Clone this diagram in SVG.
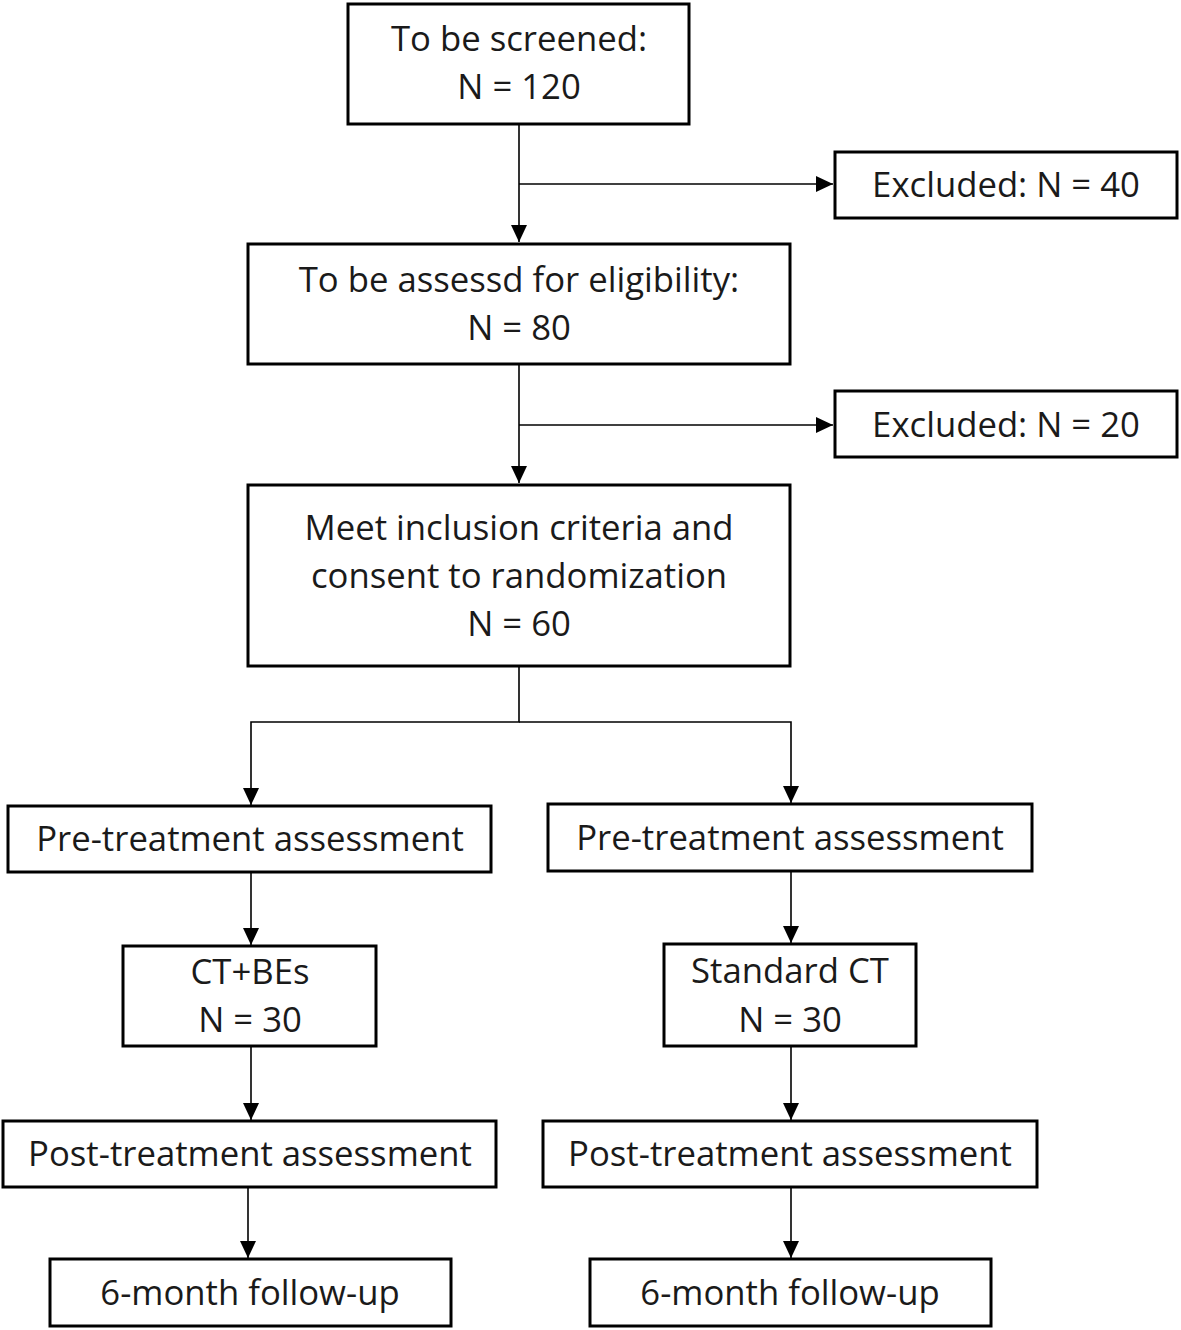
<svg xmlns="http://www.w3.org/2000/svg" width="1181" height="1330" viewBox="0 0 1181 1330">
<style>
.box{fill:#fff;stroke:#000;stroke-width:3}
.t{font-family:"Open Sans","Noto Sans",sans-serif;font-size:34.7px;fill:#1a1a1a;text-anchor:middle}
.c{fill:none;stroke:#000;stroke-width:1.6}
</style>
<defs>
<marker id="ah" markerUnits="userSpaceOnUse" markerWidth="18" markerHeight="16" refX="17" refY="8" orient="auto">
<path d="M0,0 L17,8 L0,16 Z" fill="#000"/>
</marker>
</defs>
<rect width="1181" height="1330" fill="#fff"/>
<g id="connectors">
<path class="c" d="M519,124 V242" marker-end="url(#ah)"/>
<path class="c" d="M519,184 H833" marker-end="url(#ah)"/>
<path class="c" d="M519,364 V483" marker-end="url(#ah)"/>
<path class="c" d="M519,425 H833" marker-end="url(#ah)"/>
<path class="c" d="M519,666 V722 H251 V805" marker-end="url(#ah)"/>
<path class="c" d="M519,722 H791 V803" marker-end="url(#ah)"/>
<path class="c" d="M251,872 V945" marker-end="url(#ah)"/>
<path class="c" d="M791,871 V943" marker-end="url(#ah)"/>
<path class="c" d="M251,1046 V1120" marker-end="url(#ah)"/>
<path class="c" d="M791,1046 V1120" marker-end="url(#ah)"/>
<path class="c" d="M248,1187 V1258" marker-end="url(#ah)"/>
<path class="c" d="M791,1187 V1258" marker-end="url(#ah)"/>
</g>
<g id="screened"><rect class="box" x="348" y="4" width="341" height="120"/><text class="t" x="519" y="51">To be screened:</text><text class="t" x="519" y="99">N = 120</text></g>
<g id="excluded40"><rect class="box" x="835" y="152" width="342" height="66"/><text class="t" x="1006" y="197">Excluded: N = 40</text></g>
<g id="eligibility"><rect class="box" x="248" y="244" width="542" height="120"/><text class="t" x="519" y="292">To be assessd for eligibility:</text><text class="t" x="519" y="340">N = 80</text></g>
<g id="excluded20"><rect class="box" x="835" y="391" width="342" height="66"/><text class="t" x="1006" y="437">Excluded: N = 20</text></g>
<g id="randomization"><rect class="box" x="248" y="485" width="542" height="181"/><text class="t" x="519" y="540">Meet inclusion criteria and</text><text class="t" x="519" y="588">consent to randomization</text><text class="t" x="519" y="636">N = 60</text></g>
<g id="pre-left"><rect class="box" x="8" y="806" width="483" height="66"/><text class="t" x="250" y="851">Pre-treatment assessment</text></g>
<g id="pre-right"><rect class="box" x="548" y="804" width="484" height="67"/><text class="t" x="790" y="850">Pre-treatment assessment</text></g>
<g id="ctbes"><rect class="box" x="123" y="946" width="253" height="100"/><text class="t" x="250" y="984">CT+BEs</text><text class="t" x="250" y="1032">N = 30</text></g>
<g id="standard"><rect class="box" x="664" y="944" width="252" height="102"/><text class="t" x="790" y="983">Standard CT</text><text class="t" x="790" y="1032">N = 30</text></g>
<g id="post-left"><rect class="box" x="3" y="1121" width="493" height="66"/><text class="t" x="250" y="1166">Post-treatment assessment</text></g>
<g id="post-right"><rect class="box" x="543" y="1121" width="494" height="66"/><text class="t" x="790" y="1166">Post-treatment assessment</text></g>
<g id="followup-left"><rect class="box" x="50" y="1259" width="401" height="67"/><text class="t" x="250" y="1305">6-month follow-up</text></g>
<g id="followup-right"><rect class="box" x="590" y="1259" width="401" height="67"/><text class="t" x="790" y="1305">6-month follow-up</text></g>
</svg>
